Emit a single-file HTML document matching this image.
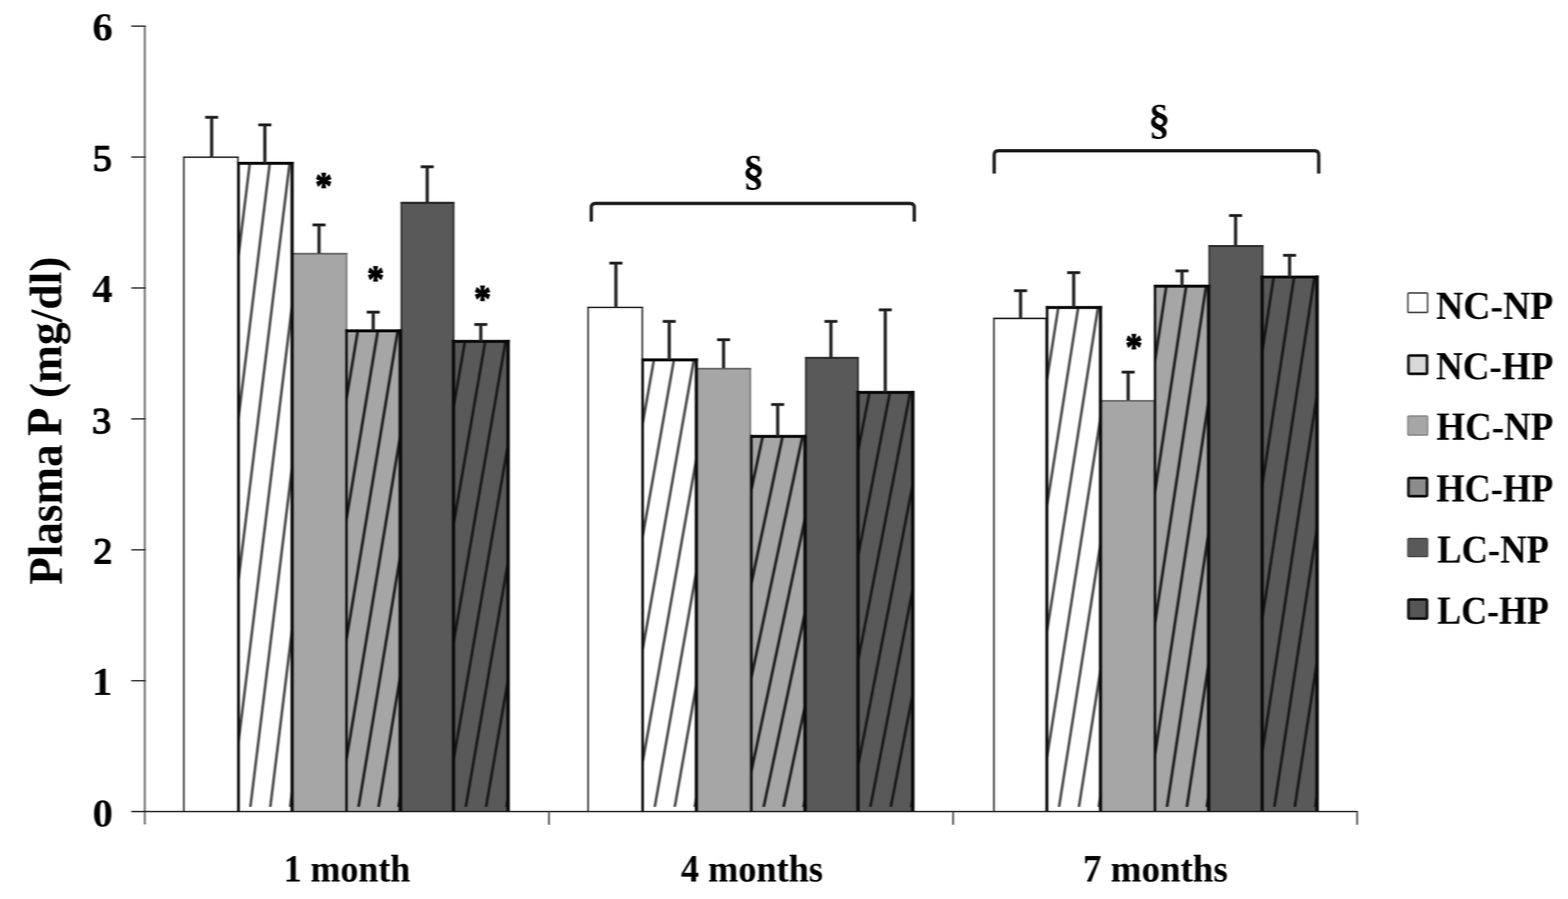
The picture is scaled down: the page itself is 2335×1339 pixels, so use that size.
<!DOCTYPE html>
<html lang="en"><head><meta charset="utf-8"><title>Plasma P (mg/dl)</title>
<style>html,body{margin:0;padding:0;background:#fff;}body{width:2335px;height:1339px;overflow:hidden;}svg{display:block;}</style>
</head><body>
<svg width="2335" height="1339" viewBox="0 0 2335 1339" font-family="'Liberation Serif', serif" font-weight="bold">
<defs>
<filter id="soft" x="0" y="0" width="2335" height="1339" filterUnits="userSpaceOnUse" color-interpolation-filters="sRGB"><feGaussianBlur stdDeviation="1 0"/></filter>
<clipPath id="c1"><rect x="355.3" y="243.3" width="79.7" height="958.5"/></clipPath>
<clipPath id="c3"><rect x="516.0" y="492.7" width="80.0" height="709.1"/></clipPath>
<clipPath id="c5"><rect x="675.3" y="508.5" width="81.3" height="693.3"/></clipPath>
<clipPath id="c7"><rect x="957.0" y="536.0" width="80.0" height="665.8"/></clipPath>
<clipPath id="c9"><rect x="1119.0" y="650.0" width="79.8" height="551.8"/></clipPath>
<clipPath id="c11"><rect x="1277.7" y="584.5" width="81.6" height="617.3"/></clipPath>
<clipPath id="c13"><rect x="1559.3" y="458.0" width="79.5" height="743.8"/></clipPath>
<clipPath id="c15"><rect x="1720.0" y="426.3" width="79.8" height="775.5"/></clipPath>
<clipPath id="c17"><rect x="1879.5" y="412.6" width="81.8" height="789.2"/></clipPath>
</defs>
<g filter="url(#soft)">
<rect width="2335" height="1339" fill="#fff"/>
<path d="M273.8 1208.8V234.1H354.3V1208.8" fill="#ffffff" stroke="#222222" stroke-width="2.3"/><path d="M272.7 234.1H355.4" fill="none" stroke="#2a2a2a" stroke-width="2.0"/>
<path d="M434.8 1208.8V378.0H516.0V1208.8" fill="#a6a6a6" stroke="#7c7c7c" stroke-width="2.8"/><path d="M433.4 378.0H517.4" fill="none" stroke="#666666" stroke-width="2.0"/>
<path d="M597.8 1208.8V302.1H675.5V1208.8" fill="#595959" stroke="#2a2a2a" stroke-width="2.6"/><path d="M596.5 302.1H676.8" fill="none" stroke="#262626" stroke-width="2.6"/>
<path d="M875.8 1208.8V457.9H956.5V1208.8" fill="#ffffff" stroke="#222222" stroke-width="2.3"/><path d="M874.6 457.9H957.6" fill="none" stroke="#2a2a2a" stroke-width="2.0"/>
<path d="M1036.8 1208.8V549.2H1117.2V1208.8" fill="#a6a6a6" stroke="#7c7c7c" stroke-width="2.8"/><path d="M1035.4 549.2H1118.6" fill="none" stroke="#666666" stroke-width="2.0"/>
<path d="M1200.1 1208.8V533.0H1277.7V1208.8" fill="#595959" stroke="#2a2a2a" stroke-width="2.6"/><path d="M1198.8 533.0H1279.0" fill="none" stroke="#262626" stroke-width="2.6"/>
<path d="M1480.1 1208.8V474.2H1557.8V1208.8" fill="#ffffff" stroke="#222222" stroke-width="2.3"/><path d="M1478.9 474.2H1559.0" fill="none" stroke="#2a2a2a" stroke-width="2.0"/>
<path d="M1638.6 1208.8V597.1H1719.0V1208.8" fill="#a6a6a6" stroke="#7c7c7c" stroke-width="2.8"/><path d="M1637.2 597.1H1720.4" fill="none" stroke="#666666" stroke-width="2.0"/>
<path d="M1800.8 1208.8V366.3H1880.2V1208.8" fill="#595959" stroke="#2a2a2a" stroke-width="2.6"/><path d="M1799.5 366.3H1881.5" fill="none" stroke="#262626" stroke-width="2.6"/>
<rect x="355.3" y="243.3" width="79.7" height="965.5" fill="#ffffff"/>
<g clip-path="url(#c1)" stroke="#4c4c4c" stroke-width="4.0" stroke-linecap="round">
<line x1="253.4" y1="1208.8" x2="372.0" y2="243.3"/>
<line x1="283.1" y1="1208.8" x2="401.7" y2="243.3"/>
<line x1="312.7" y1="1208.8" x2="431.3" y2="243.3"/>
<line x1="342.4" y1="1208.8" x2="461.0" y2="243.3"/>
<line x1="372.0" y1="1208.8" x2="490.6" y2="243.3"/>
<line x1="401.7" y1="1208.8" x2="520.3" y2="243.3"/>
<line x1="431.3" y1="1208.8" x2="549.9" y2="243.3"/>
</g>
<g fill="none" stroke="#0a0a0a"><path d="M355.3 1208.8V241.0" stroke-width="3.8"/><path d="M353.4 243.3H437.4" stroke-width="4.4"/><path d="M435.0 1208.8V241.0" stroke-width="4.8"/></g>
<rect x="516.0" y="492.7" width="80.0" height="716.1" fill="#a6a6a6"/>
<g clip-path="url(#c3)" stroke="#202020" stroke-width="4.2" stroke-linecap="round">
<line x1="413.8" y1="1208.8" x2="532.8" y2="492.7"/>
<line x1="443.5" y1="1208.8" x2="562.6" y2="492.7"/>
<line x1="473.3" y1="1208.8" x2="592.3" y2="492.7"/>
<line x1="503.0" y1="1208.8" x2="622.1" y2="492.7"/>
<line x1="532.8" y1="1208.8" x2="651.8" y2="492.7"/>
<line x1="562.6" y1="1208.8" x2="681.6" y2="492.7"/>
<line x1="592.3" y1="1208.8" x2="711.4" y2="492.7"/>
</g>
<g fill="none" stroke="#0a0a0a"><path d="M516.0 1208.8V490.4" stroke-width="3.6"/><path d="M514.2 492.7H598.5" stroke-width="4.4"/><path d="M596.0 1208.8V490.4" stroke-width="5.0"/></g>
<rect x="675.3" y="508.5" width="81.3" height="700.3" fill="#595959"/>
<g clip-path="url(#c5)" stroke="#181818" stroke-width="4.0" stroke-linecap="round">
<line x1="571.4" y1="1208.8" x2="692.4" y2="508.5"/>
<line x1="601.6" y1="1208.8" x2="722.6" y2="508.5"/>
<line x1="631.9" y1="1208.8" x2="752.9" y2="508.5"/>
<line x1="662.1" y1="1208.8" x2="783.1" y2="508.5"/>
<line x1="692.4" y1="1208.8" x2="813.3" y2="508.5"/>
<line x1="722.6" y1="1208.8" x2="843.6" y2="508.5"/>
<line x1="752.9" y1="1208.8" x2="873.8" y2="508.5"/>
</g>
<g fill="none" stroke="#0a0a0a"><path d="M675.3 1208.8V506.2" stroke-width="4.8"/><path d="M672.9 508.5H759.2" stroke-width="4.4"/><path d="M756.6 1208.8V506.2" stroke-width="5.2"/></g>
<rect x="957.0" y="536.0" width="80.0" height="672.8" fill="#ffffff"/>
<g clip-path="url(#c7)" stroke="#4c4c4c" stroke-width="4.0" stroke-linecap="round">
<line x1="854.8" y1="1208.8" x2="973.8" y2="536.0"/>
<line x1="884.5" y1="1208.8" x2="1003.6" y2="536.0"/>
<line x1="914.3" y1="1208.8" x2="1033.3" y2="536.0"/>
<line x1="944.0" y1="1208.8" x2="1063.1" y2="536.0"/>
<line x1="973.8" y1="1208.8" x2="1092.8" y2="536.0"/>
<line x1="1003.6" y1="1208.8" x2="1122.6" y2="536.0"/>
<line x1="1033.3" y1="1208.8" x2="1152.4" y2="536.0"/>
</g>
<g fill="none" stroke="#0a0a0a"><path d="M957.0 1208.8V533.7" stroke-width="3.8"/><path d="M955.1 536.0H1039.4" stroke-width="4.4"/><path d="M1037.0 1208.8V533.7" stroke-width="4.8"/></g>
<rect x="1119.0" y="650.0" width="79.8" height="558.8" fill="#a6a6a6"/>
<g clip-path="url(#c9)" stroke="#202020" stroke-width="4.2" stroke-linecap="round">
<line x1="1017.0" y1="1208.8" x2="1135.8" y2="650.0"/>
<line x1="1046.7" y1="1208.8" x2="1165.4" y2="650.0"/>
<line x1="1076.4" y1="1208.8" x2="1195.1" y2="650.0"/>
<line x1="1106.1" y1="1208.8" x2="1224.8" y2="650.0"/>
<line x1="1135.8" y1="1208.8" x2="1254.5" y2="650.0"/>
<line x1="1165.4" y1="1208.8" x2="1284.2" y2="650.0"/>
<line x1="1195.1" y1="1208.8" x2="1313.9" y2="650.0"/>
</g>
<g fill="none" stroke="#0a0a0a"><path d="M1119.0 1208.8V647.7" stroke-width="3.6"/><path d="M1117.2 650.0H1201.3" stroke-width="4.4"/><path d="M1198.8 1208.8V647.7" stroke-width="5.0"/></g>
<rect x="1277.7" y="584.5" width="81.6" height="624.3" fill="#595959"/>
<g clip-path="url(#c11)" stroke="#181818" stroke-width="4.0" stroke-linecap="round">
<line x1="1173.4" y1="1208.8" x2="1294.8" y2="584.5"/>
<line x1="1203.8" y1="1208.8" x2="1325.2" y2="584.5"/>
<line x1="1234.1" y1="1208.8" x2="1355.5" y2="584.5"/>
<line x1="1264.5" y1="1208.8" x2="1385.9" y2="584.5"/>
<line x1="1294.8" y1="1208.8" x2="1416.3" y2="584.5"/>
<line x1="1325.2" y1="1208.8" x2="1446.6" y2="584.5"/>
<line x1="1355.5" y1="1208.8" x2="1477.0" y2="584.5"/>
</g>
<g fill="none" stroke="#0a0a0a"><path d="M1277.7 1208.8V582.2" stroke-width="4.8"/><path d="M1275.3 584.5H1361.9" stroke-width="4.4"/><path d="M1359.3 1208.8V582.2" stroke-width="5.2"/></g>
<rect x="1559.3" y="458.0" width="79.5" height="750.8" fill="#ffffff"/>
<g clip-path="url(#c13)" stroke="#4c4c4c" stroke-width="4.0" stroke-linecap="round">
<line x1="1457.7" y1="1208.8" x2="1576.0" y2="458.0"/>
<line x1="1487.3" y1="1208.8" x2="1605.6" y2="458.0"/>
<line x1="1516.8" y1="1208.8" x2="1635.1" y2="458.0"/>
<line x1="1546.4" y1="1208.8" x2="1664.7" y2="458.0"/>
<line x1="1576.0" y1="1208.8" x2="1694.3" y2="458.0"/>
<line x1="1605.6" y1="1208.8" x2="1723.9" y2="458.0"/>
<line x1="1635.1" y1="1208.8" x2="1753.4" y2="458.0"/>
</g>
<g fill="none" stroke="#0a0a0a"><path d="M1559.3 1208.8V455.7" stroke-width="3.8"/><path d="M1557.4 458.0H1641.2" stroke-width="4.4"/><path d="M1638.8 1208.8V455.7" stroke-width="4.8"/></g>
<rect x="1720.0" y="426.3" width="79.8" height="782.5" fill="#a6a6a6"/>
<g clip-path="url(#c15)" stroke="#202020" stroke-width="4.2" stroke-linecap="round">
<line x1="1618.0" y1="1208.8" x2="1736.8" y2="426.3"/>
<line x1="1647.7" y1="1208.8" x2="1766.4" y2="426.3"/>
<line x1="1677.4" y1="1208.8" x2="1796.1" y2="426.3"/>
<line x1="1707.1" y1="1208.8" x2="1825.8" y2="426.3"/>
<line x1="1736.8" y1="1208.8" x2="1855.5" y2="426.3"/>
<line x1="1766.4" y1="1208.8" x2="1885.2" y2="426.3"/>
<line x1="1796.1" y1="1208.8" x2="1914.9" y2="426.3"/>
</g>
<g fill="none" stroke="#0a0a0a"><path d="M1720.0 1208.8V424.0" stroke-width="3.6"/><path d="M1718.2 426.3H1802.3" stroke-width="4.4"/><path d="M1799.8 1208.8V424.0" stroke-width="5.0"/></g>
<rect x="1879.5" y="412.6" width="81.8" height="796.2" fill="#595959"/>
<g clip-path="url(#c17)" stroke="#181818" stroke-width="4.0" stroke-linecap="round">
<line x1="1775.0" y1="1208.8" x2="1896.7" y2="412.6"/>
<line x1="1805.4" y1="1208.8" x2="1927.1" y2="412.6"/>
<line x1="1835.8" y1="1208.8" x2="1957.5" y2="412.6"/>
<line x1="1866.2" y1="1208.8" x2="1988.0" y2="412.6"/>
<line x1="1896.7" y1="1208.8" x2="2018.4" y2="412.6"/>
<line x1="1927.1" y1="1208.8" x2="2048.8" y2="412.6"/>
<line x1="1957.5" y1="1208.8" x2="2079.3" y2="412.6"/>
</g>
<g fill="none" stroke="#0a0a0a"><path d="M1879.5 1208.8V410.3" stroke-width="4.8"/><path d="M1877.1 412.6H1963.9" stroke-width="4.4"/><path d="M1961.3 1208.8V410.3" stroke-width="5.2"/></g>
<g stroke="#222" fill="none">
<path d="M315.2 233.3V174.7" stroke-width="4.8"/><path d="M305.5 174.7H324.9" stroke-width="4.3"/>
<path d="M394.4 243.3V186.0" stroke-width="4.8"/><path d="M384.7 186.0H404.1" stroke-width="4.3"/>
<path d="M475.1 377.2V335.0" stroke-width="4.8"/><path d="M465.4 335.0H484.8" stroke-width="4.3"/>
<path d="M555.8 492.7V464.9" stroke-width="4.8"/><path d="M546.1 464.9H565.5" stroke-width="4.3"/>
<path d="M636.2 301.3V248.4" stroke-width="4.8"/><path d="M626.5 248.4H645.9" stroke-width="4.3"/>
<path d="M716.0 508.5V483.3" stroke-width="4.8"/><path d="M706.3 483.3H725.7" stroke-width="4.3"/>
<path d="M917.2 457.1V391.9" stroke-width="4.8"/><path d="M907.5 391.9H926.9" stroke-width="4.3"/>
<path d="M996.6 536.0V478.7" stroke-width="4.8"/><path d="M986.9 478.7H1006.3" stroke-width="4.3"/>
<path d="M1077.5 548.4V506.0" stroke-width="4.8"/><path d="M1067.8 506.0H1087.2" stroke-width="4.3"/>
<path d="M1158.1 650.0V602.5" stroke-width="4.8"/><path d="M1148.4 602.5H1167.8" stroke-width="4.3"/>
<path d="M1237.4 532.2V478.7" stroke-width="4.8"/><path d="M1227.7 478.7H1247.1" stroke-width="4.3"/>
<path d="M1318.3 584.5V461.5" stroke-width="4.8"/><path d="M1308.6 461.5H1328.0" stroke-width="4.3"/>
<path d="M1519.8 473.4V433.0" stroke-width="4.8"/><path d="M1510.1 433.0H1529.5" stroke-width="4.3"/>
<path d="M1598.9 458.0V406.1" stroke-width="4.8"/><path d="M1589.2 406.1H1608.6" stroke-width="4.3"/>
<path d="M1680.0 596.3V554.3" stroke-width="4.8"/><path d="M1670.3 554.3H1689.7" stroke-width="4.3"/>
<path d="M1760.2 426.3V403.5" stroke-width="4.8"/><path d="M1750.5 403.5H1769.9" stroke-width="4.3"/>
<path d="M1840.0 365.5V321.0" stroke-width="4.8"/><path d="M1830.3 321.0H1849.7" stroke-width="4.3"/>
<path d="M1920.4 412.6V380.3" stroke-width="4.8"/><path d="M1910.7 380.3H1930.1" stroke-width="4.3"/>
</g>
<path d="M215.6 38.9V1228" stroke="#787878" stroke-width="3.2" fill="none"/>
<g stroke="#2e2e2e" stroke-width="2.0" fill="none">
<path d="M195.5 1013.9H217.2"/>
<path d="M195.5 818.9H217.2"/>
<path d="M195.5 623.9H217.2"/>
<path d="M195.5 428.9H217.2"/>
<path d="M195.5 233.9H217.2"/>
<path d="M195.5 38.9H217.2"/>
</g>
<path d="M195.5 1208.8H2022" stroke="#1a1a1a" stroke-width="2.1" fill="none"/>
<g stroke="#484848" stroke-width="2.6" fill="none">
<path d="M817.5 1208.8V1228.5"/>
<path d="M1419.3 1208.8V1228.5"/>
<path d="M2021 1208.8V1228.5"/>
</g>
<path d="M880.5 330V309.5Q880.5 303 887.0 303H1355.0Q1361.5 303 1361.5 309.5V330" fill="none" stroke="#1e1e1e" stroke-width="5"/>
<path d="M1480.5 258.4V230.9Q1480.5 224.4 1487.0 224.4H1957.3Q1963.8 224.4 1963.8 230.9V258.4" fill="none" stroke="#1e1e1e" stroke-width="5"/>
<text transform="matrix(1.2200 0 0 1.1900 137.40 60.21)" font-size="50" font-weight="bold" fill="#000">6</text>
<text transform="matrix(1.1400 0 0 1.1100 138.05 253.80)" font-size="50" font-weight="normal" fill="#000" stroke="#000" stroke-width="1.75" stroke-linejoin="round">5</text>
<text transform="matrix(1.2200 0 0 1.1900 137.25 449.76)" font-size="50" font-weight="bold" fill="#000">4</text>
<text transform="matrix(1.1400 0 0 1.1100 136.89 645.26)" font-size="50" font-weight="normal" fill="#000" stroke="#000" stroke-width="1.75" stroke-linejoin="round">3</text>
<text transform="matrix(1.1400 0 0 1.1100 138.88 839.03)" font-size="50" font-weight="normal" fill="#000" stroke="#000" stroke-width="1.75" stroke-linejoin="round">2</text>
<text transform="matrix(1.2200 0 0 1.1900 136.71 1034.54)" font-size="50" font-weight="bold" fill="#000">1</text>
<text transform="matrix(1.2200 0 0 1.1900 137.75 1230.74)" font-size="50" font-weight="bold" fill="#000">0</text>
<text transform="matrix(1.0686 0 0 1.1574 422.53 1312.72)" font-size="50" font-weight="bold" fill="#000">1 month</text>
<text transform="matrix(1.0794 0 0 1.1574 1014.03 1312.72)" font-size="50" font-weight="bold" fill="#000">4 months</text>
<text transform="matrix(1.1004 0 0 1.1574 1612.84 1312.72)" font-size="50" font-weight="bold" fill="#000">7 months</text>
<g aria-label="Plasma P (mg/dl)">
<text transform="matrix(0 -1.3439 1.4184 0 91.69 870.98)" font-size="50" font-weight="bold" fill="#000">Plasma</text>
<text transform="matrix(0 -1.3876 1.4656 0 91.40 649.41)" font-size="50" font-weight="bold" fill="#000">P</text>
<text transform="matrix(0 -1.3565 1.3683 0 90.95 593.05)" font-size="50" font-weight="bold" fill="#000">(mg/dl)</text>
</g>
<text transform="matrix(1.3067 0 0 1.2511 1105.92 274.58)" font-size="50" font-weight="bold" fill="#000">§</text>
<text transform="matrix(1.3067 0 0 1.2636 1709.92 199.00)" font-size="50" font-weight="bold" fill="#000">§</text>
<text transform="matrix(1.0067 0 0 1.1387 469.42 295.93)" font-size="50" font-weight="bold" fill="#000" stroke="#000" stroke-width="1.50" stroke-linejoin="round">*</text>
<text transform="matrix(1.0067 0 0 1.1387 546.82 435.13)" font-size="50" font-weight="bold" fill="#000" stroke="#000" stroke-width="1.50" stroke-linejoin="round">*</text>
<text transform="matrix(1.0067 0 0 1.1387 706.02 463.83)" font-size="50" font-weight="bold" fill="#000" stroke="#000" stroke-width="1.50" stroke-linejoin="round">*</text>
<text transform="matrix(1.0067 0 0 1.1387 1675.92 535.63)" font-size="50" font-weight="bold" fill="#000" stroke="#000" stroke-width="1.50" stroke-linejoin="round">*</text>
<rect x="2096.6" y="436.3" width="29.3" height="29.1" rx="1.5" fill="#ffffff" stroke="#3c3c3c" stroke-width="2.2"/>
<text transform="matrix(1.1239 0 0 1.1836 2138.38 474.81)" font-size="50" font-weight="bold" fill="#000">NC-NP</text>
<rect x="2097.4" y="529.6" width="27.7" height="27.1" rx="2" fill="#d8d8d8" stroke="#111" stroke-width="4.0"/>
<text transform="matrix(1.1041 0 0 1.1836 2138.40 564.61)" font-size="50" font-weight="bold" fill="#000">NC-HP</text>
<rect x="2096.6" y="619.5" width="29.3" height="28.5" rx="1.5" fill="#a6a6a6" stroke="#858585" stroke-width="2.2"/>
<text transform="matrix(1.1000 0 0 1.1836 2139.04 655.31)" font-size="50" font-weight="bold" fill="#000">HC-NP</text>
<rect x="2097.4" y="712.1" width="27.7" height="26.9" rx="2" fill="#8c8c8c" stroke="#111" stroke-width="4.0"/>
<text transform="matrix(1.0809 0 0 1.1836 2139.05 746.71)" font-size="50" font-weight="bold" fill="#000">HC-HP</text>
<rect x="2096.6" y="802.1" width="29.3" height="26.9" rx="1.5" fill="#595959" stroke="#4a4a4a" stroke-width="2.2"/>
<text transform="matrix(1.0884 0 0 1.1836 2140.25 838.41)" font-size="50" font-weight="bold" fill="#000">LC-NP</text>
<rect x="2097.4" y="892.9" width="27.7" height="28.3" rx="2" fill="#565656" stroke="#111" stroke-width="4.0"/>
<text transform="matrix(1.0688 0 0 1.1836 2140.26 929.01)" font-size="50" font-weight="bold" fill="#000">LC-HP</text>
</g>
</svg>
</body></html>
